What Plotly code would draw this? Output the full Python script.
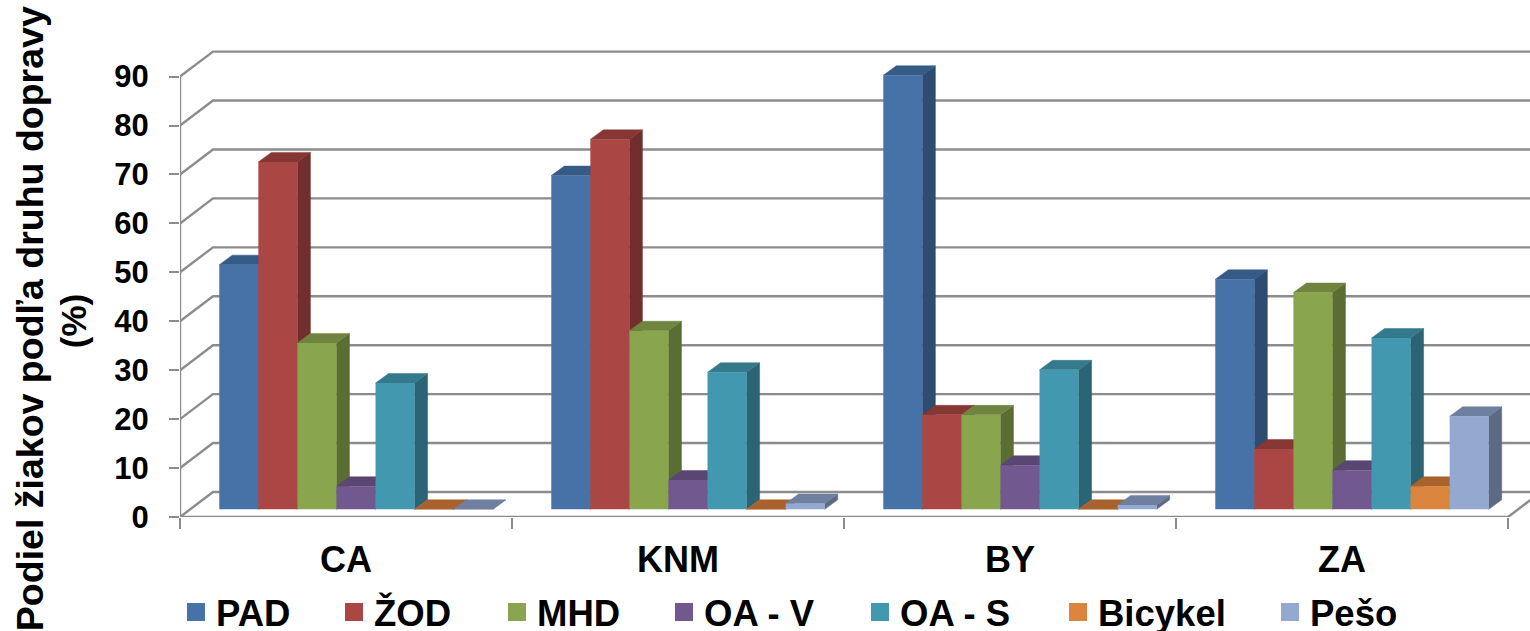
import plotly.graph_objects as go

categories = ["CA", "KNM", "BY", "ZA"]
series_names = ["PAD", "ŽOD", "MHD", "OA - V", "OA - S", "Bicykel", "Pešo"]
pad = [50, 68.2, 88.7, 47]
zod = [71, 75.6, 19.3, 12.3]
mhd = [34, 36.5, 19.3, 44.3]
oa_v = [4.7, 6, 9, 8]
oa_s = [25.8, 28, 28.5, 35]
bicykel = [0, 0, 0, 4.7]
peso = [0, 1.2, 0.9, 19]
y_ticks = list(range(0, 100, 10))

front_colors = ["#4672A8", "#AA4643", "#89A54E", "#71588F", "#4198AF", "#DB843D", "#93A9CF"]
side_colors = ["#2E4B72", "#722E2C", "#5A6E33", "#4B3A5F", "#2A6475", "#92582A", "#5C6A84"]
top_colors = ["#375B87", "#863734", "#6E843F", "#5A4672", "#347A8C", "#A9622C", "#6F7F9F"]
legend_px = [176, 334, 497, 664, 860, 1058, 1270]

all_values = [pad, zod, mhd, oa_v, oa_s, bicykel, peso]

W, H = 1530, 631
L_PX, FLOOR_PX, TOP_PX = 180, 516.7, 40
CAT_PX, UNIT_PX = 332, 4.89
px_x = lambda p: p / CAT_PX
px_y = lambda p: p / UNIT_PX

wall_dx, wall_dy = px_x(33), px_y(25)
plane_dx, plane_dy = px_x(10), px_y(7.7)
depth_dx, depth_dy = px_x(13), px_y(9.5)
bar_w = 1 / 8.5
x_max = (W - L_PX) / CAT_PX
y_max = (FLOOR_PX - TOP_PX) / UNIT_PX
GRID = "#8C8C8C"
FONT = "Liberation Sans"

fig = go.Figure()

# Back wall, floor and slanted grid lines
wx, wy = [0, 0, None, 0, 4, None], [0, 90, None, 0, 0, None]
for v in y_ticks:
    wx += [0, wall_dx, x_max, None]
    wy += [v, v + wall_dy, v + wall_dy, None]
wx += [4, 4 + wall_dx]
wy += [0, wall_dy]
fig.add_trace(go.Scatter(x=wx, y=wy, mode="lines", line=dict(color=GRID, width=2.4),
                         showlegend=False, hoverinfo="skip"))

# Depth faces, series by series
for s, vals in enumerate(all_values):
    sx, sy, tx, ty = [], [], [], []
    for c, v in enumerate(vals):
        xl = c + plane_dx + 0.75 * bar_w + s * bar_w
        xr = xl + bar_w
        y0 = plane_dy
        y1 = plane_dy + v
        sx += [xr, xr + depth_dx, xr + depth_dx, xr, xr, None]
        sy += [y0, y0 + depth_dy, y1 + depth_dy, y1, y0, None]
        tx += [xl, xr, xr + depth_dx, xl + depth_dx, xl, None]
        ty += [y1, y1, y1 + depth_dy, y1 + depth_dy, y1, None]
    for px_, py_, col in ((sx, sy, side_colors[s]), (tx, ty, top_colors[s])):
        fig.add_trace(go.Scatter(x=px_, y=py_, mode="lines", fill="toself", fillcolor=col,
                                 line=dict(color=col, width=0.5), showlegend=False,
                                 hoverinfo="skip"))

# Front faces on an overlay so they sit above all the depth faces
for s, vals in enumerate(all_values):
    centres = [c + plane_dx + 0.75 * bar_w + (s + 0.5) * bar_w for c in range(len(categories))]
    fig.add_trace(go.Bar(x=centres, y=vals, base=plane_dy, width=bar_w, name=series_names[s],
                         marker=dict(color=front_colors[s], line=dict(width=0)),
                         xaxis="x2", yaxis="y2", showlegend=False))

# Legend entries, one independently placed legend per series
legends = {}
for s, name in enumerate(series_names):
    key = "legend" if s == 0 else f"legend{s + 1}"
    fig.add_trace(go.Scatter(x=[None], y=[None], mode="markers", name=name, legend=key,
                             marker=dict(symbol="square", size=16, color=front_colors[s],
                                         line=dict(width=2, color=front_colors[s]))))
    legends[key] = dict(x=(legend_px[s] - L_PX) / (W - L_PX), xanchor="left",
                        y=(FLOOR_PX - 612) / (FLOOR_PX - TOP_PX), yanchor="middle",
                        bgcolor="rgba(0,0,0,0)", itemclick=False, itemdoubleclick=False,
                        font=dict(family=FONT, size=36.5, color="black", weight=700))

tickfont = dict(family=FONT, size=31, color="black", weight=700)
title_font = dict(family=FONT, size=37.5, color="black", weight=700)
fig.update_layout(
    width=W, height=H, margin=dict(l=L_PX, r=0, t=TOP_PX, b=H - FLOOR_PX, autoexpand=False),
    paper_bgcolor="white", plot_bgcolor="white", barmode="overlay", **legends,
    xaxis=dict(range=[0, x_max], tickmode="array", tickvals=[i + 0.5 for i in range(4)],
               ticktext=categories, ticks="", showgrid=False, zeroline=False, showline=False,
               tickfont=dict(family=FONT, size=36, color="black", weight=700),
               ticklabelstandoff=18,
               minor=dict(tickmode="array", tickvals=[0, 1, 2, 3, 4], ticks="outside",
                          ticklen=11, tickwidth=2.4, tickcolor=GRID, showgrid=False)),
    yaxis=dict(range=[0, y_max], tickmode="array", tickvals=y_ticks, ticks="outside",
               ticklen=10, tickwidth=2.4, tickcolor=GRID, showgrid=False, zeroline=False,
               showline=False, tickfont=tickfont, ticklabelstandoff=14),
    xaxis2=dict(range=[0, x_max], overlaying="x", visible=False, anchor="y2"),
    yaxis2=dict(range=[0, y_max], overlaying="y", visible=False, anchor="x2"),
    annotations=[
        dict(text="Podiel žiakov podľa druhu dopravy", textangle=-90,
             xref="paper", yref="paper",
             x=(30 - L_PX) / (W - L_PX), y=(FLOOR_PX - 319) / (FLOOR_PX - TOP_PX),
             xanchor="center", yanchor="middle", showarrow=False, font=title_font),
        dict(text="(%)", textangle=-90, xref="paper", yref="paper",
             x=(73 - L_PX) / (W - L_PX), y=(FLOOR_PX - 321) / (FLOOR_PX - TOP_PX),
             xanchor="center", yanchor="middle", showarrow=False,
             font=dict(family=FONT, size=35, color="black", weight=700)),
    ],
)

fig.write_html("out.html", config={"displayModeBar": False},
               post_script="document.body.style.margin='0';")
